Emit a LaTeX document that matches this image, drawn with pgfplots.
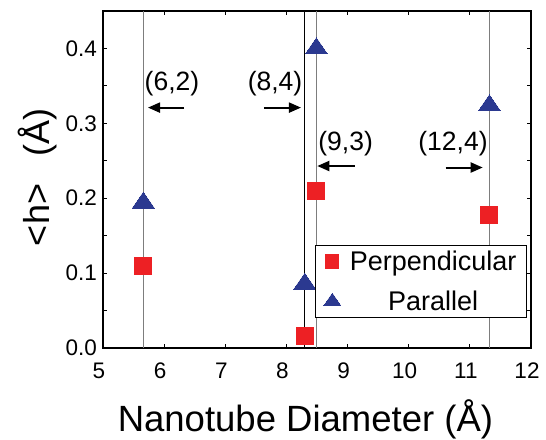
\documentclass[border=0pt]{standalone}
\usepackage{fontspec}
\setmainfont{Liberation Sans}
\usepackage{pgfplots}
\pgfplotsset{compat=1.18}
\usetikzlibrary{arrows.meta}
\definecolor{myred}{RGB}{237,32,36}
\definecolor{myblue}{RGB}{43,57,144}
\definecolor{vgray}{RGB}{125,125,125}
\begin{document}
\begin{tikzpicture}
\begin{axis}[
  scale only axis, width=428pt, height=337pt,
  xmin=5, xmax=12, ymin=0, ymax=0.45,
  xtick={5,6,7,8,9,10,11,12},
  ytick={0,0.1,0.2,0.3,0.4},
  minor ytick={0.05,0.15,0.25,0.35},
  tick align=inside, major tick length=4pt, minor tick length=4pt,
  xtick pos=both, ytick pos=both,
  axis line style={line width=1.6pt},
  every tick/.style={line width=1pt, black},
  /pgf/number format/assume math mode=true,
  yticklabel style={/pgf/number format/fixed, /pgf/number format/fixed zerofill, /pgf/number format/precision=1},
  tick label style={font=\fontsize{22.5}{27}\selectfont},
  xticklabel style={anchor=base, yshift=-30pt, xshift=-4pt, inner sep=0pt},
  yticklabel style={anchor=east, xshift=-6pt, inner sep=0pt},
  xlabel={Nanotube Diameter (Å)},
  xlabel style={at={(axis description cs:0.473,-0.249)}, anchor=base, font=\fontsize{36.5}{40}\selectfont, inner sep=0pt},
  ylabel={<h>\hspace{0.75em}(Å)},
  ylabel style={at={(axis description cs:-0.154,0.506)}, anchor=center, font=\fontsize{36}{40}\selectfont, inner sep=0pt},
  legend style={at={(rel axis cs:0.9907,0.089)}, anchor=south east, draw=black, line width=1pt, fill=white,
    font=\fontsize{27}{32}\selectfont, inner xsep=8pt, inner ysep=3.5pt, row sep=15pt, column sep=7pt},
  legend cell align=center,
  legend image code/.code={\draw[#1, /tikz/every mark/.append style={scale=0.78}] plot coordinates {(0.3cm,0cm)};},
]
% vertical lines
\addplot[forget plot, vgray, line width=1pt] coordinates {(5.66,0) (5.66,0.45)};
\addplot[forget plot, black, line width=0.8pt] coordinates {(8.30,0) (8.30,0.45)};
\addplot[forget plot, vgray, line width=1pt] coordinates {(8.49,0) (8.49,0.45)};
\addplot[forget plot, vgray, line width=1pt] coordinates {(11.32,0) (11.32,0.45)};
% data
\addplot[only marks, mark=square*, mark size=8.5pt, color=myred, line width=0pt]
  coordinates {(5.66,0.110) (8.30,0.016) (8.49,0.209) (11.32,0.178)};
\addlegendentry{Perpendicular}
\addplot[only marks, mark=triangle*, mark size=12.7pt, color=myblue, line width=0pt, mark options={yscale=0.84}]
  coordinates {(5.66,0.194) (8.30,0.0857) (8.49,0.400) (11.32,0.324)};
\addlegendentry{Parallel}
% arrows
\addplot[forget plot, black, line width=2pt, -{Triangle[length=12pt,width=10pt]}] coordinates {(6.325,0.321) (5.736,0.321)};
\addplot[forget plot, black, line width=2pt, -{Triangle[length=12pt,width=10pt]}] coordinates {(7.633,0.321) (8.238,0.321)};
\addplot[forget plot, black, line width=2pt, -{Triangle[length=12pt,width=10pt]}] coordinates {(9.12,0.243) (8.505,0.243)};
\addplot[forget plot, black, line width=2pt, -{Triangle[length=12pt,width=10pt]}] coordinates {(10.605,0.241) (11.21,0.241)};
% labels
\node[font=\fontsize{26.5}{30}\selectfont, inner sep=0pt] at (axis cs:6.128,0.353) {(6,2)};
\node[font=\fontsize{26.5}{30}\selectfont, inner sep=0pt] at (axis cs:7.813,0.353) {(8,4)};
\node[font=\fontsize{26.5}{30}\selectfont, inner sep=0pt] at (axis cs:8.968,0.273) {(9,3)};
\node[font=\fontsize{26.5}{30}\selectfont, inner sep=0pt] at (axis cs:10.724,0.273) {(12,4)};
\end{axis}
\path (current axis.south west) +(-103pt,-87pt) (current axis.north east) +(15pt,11pt);
\end{tikzpicture}
\end{document}
